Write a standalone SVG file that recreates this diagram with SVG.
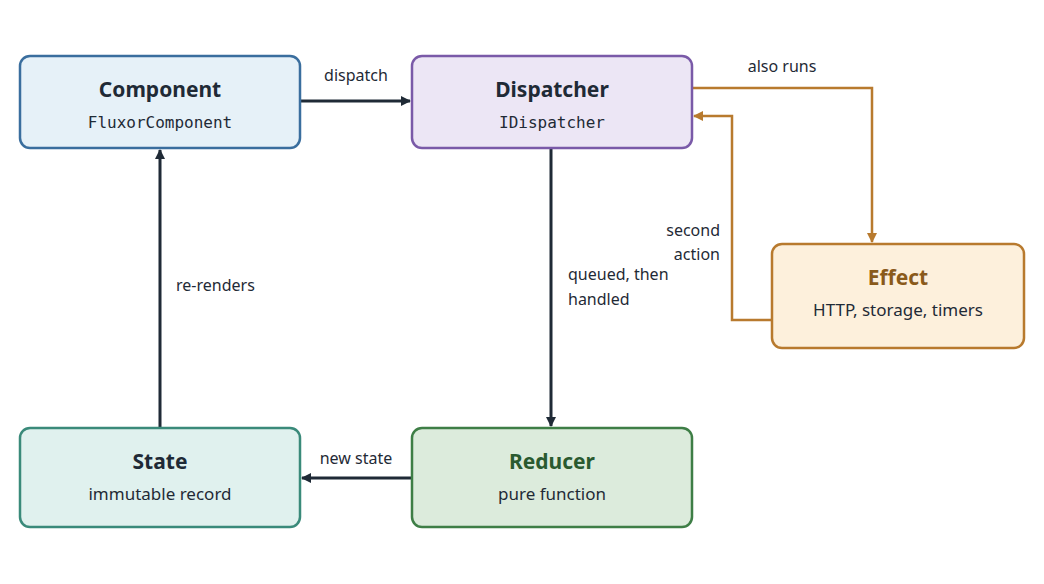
<svg xmlns="http://www.w3.org/2000/svg" width="1044" height="584" viewBox="0 0 1044 584">
<defs>
<marker id="ad" markerWidth="10" markerHeight="10" refX="9" refY="5" orient="auto" markerUnits="userSpaceOnUse"><path d="M0,0 L10,5 L0,10 z" fill="#1f2a36"/></marker>
<marker id="ao" markerWidth="10" markerHeight="10" refX="9" refY="5" orient="auto" markerUnits="userSpaceOnUse"><path d="M0,0 L10,5 L0,10 z" fill="#b87a2e"/></marker>
</defs>
<style>
text{font-family:"Noto Sans","Open Sans",sans-serif;fill:#1f2a36}
.t{font-size:21px;font-weight:bold;text-anchor:middle}
.s{font-size:17px;text-anchor:middle}
.m{font-family:"DejaVu Sans Mono","Liberation Mono",monospace;font-size:16px;text-anchor:middle}
.l{font-size:16px}
.d{stroke:#1f2a36;stroke-width:3;fill:none}
.o{stroke:#b87a2e;stroke-width:2.5;fill:none}
rect{stroke-width:2.5}
</style>
<rect width="1044" height="584" fill="#fff"/>
<g id="connectors">
<path class="d" d="M300,101 H410" marker-end="url(#ad)"/>
<path class="d" d="M551,148 V426" marker-end="url(#ad)"/>
<path class="d" d="M412,478 H302" marker-end="url(#ad)"/>
<path class="d" d="M160,428 V150" marker-end="url(#ad)"/>
<path class="o" d="M692,88 H872 V242" marker-end="url(#ao)"/>
<path class="o" d="M772,320 H732 V116 H694" marker-end="url(#ao)"/>
<text class="l" x="356" y="81" text-anchor="middle">dispatch</text>
<text class="l" x="568" y="280">queued, then</text>
<text class="l" x="568" y="305">handled</text>
<text class="l" x="356" y="464" text-anchor="middle">new state</text>
<text class="l" x="176" y="291">re-renders</text>
<text class="l" x="782" y="72" text-anchor="middle">also runs</text>
<text class="l" x="720" y="236" text-anchor="end">second</text>
<text class="l" x="720" y="260" text-anchor="end">action</text>
</g>
<g id="component"><rect x="20" y="56" width="280" height="92" rx="10" fill="#e6f1f8" stroke="#3a6e9e"/><text class="t" x="160" y="97">Component</text><text class="m" x="160" y="128">FluxorComponent</text></g>
<g id="dispatcher"><rect x="412" y="56" width="280" height="92" rx="10" fill="#ece6f5" stroke="#7a5aa8"/><text class="t" x="552" y="97">Dispatcher</text><text class="m" x="552" y="128">IDispatcher</text></g>
<g id="effect"><rect x="772" y="244" width="252" height="104" rx="10" fill="#fdf0dc" stroke="#b87a2e"/><text class="t" x="898" y="285" style="fill:#8a5a1a">Effect</text><text class="s" x="898" y="316">HTTP, storage, timers</text></g>
<g id="state"><rect x="20" y="428" width="280" height="99" rx="10" fill="#e0f1ee" stroke="#3a8a7a"/><text class="t" x="160" y="469">State</text><text class="s" x="160" y="500">immutable record</text></g>
<g id="reducer"><rect x="412" y="428" width="280" height="99" rx="10" fill="#dcebdc" stroke="#3e7e46"/><text class="t" x="552" y="469" style="fill:#2a5a30">Reducer</text><text class="s" x="552" y="500">pure function</text></g>
</svg>
